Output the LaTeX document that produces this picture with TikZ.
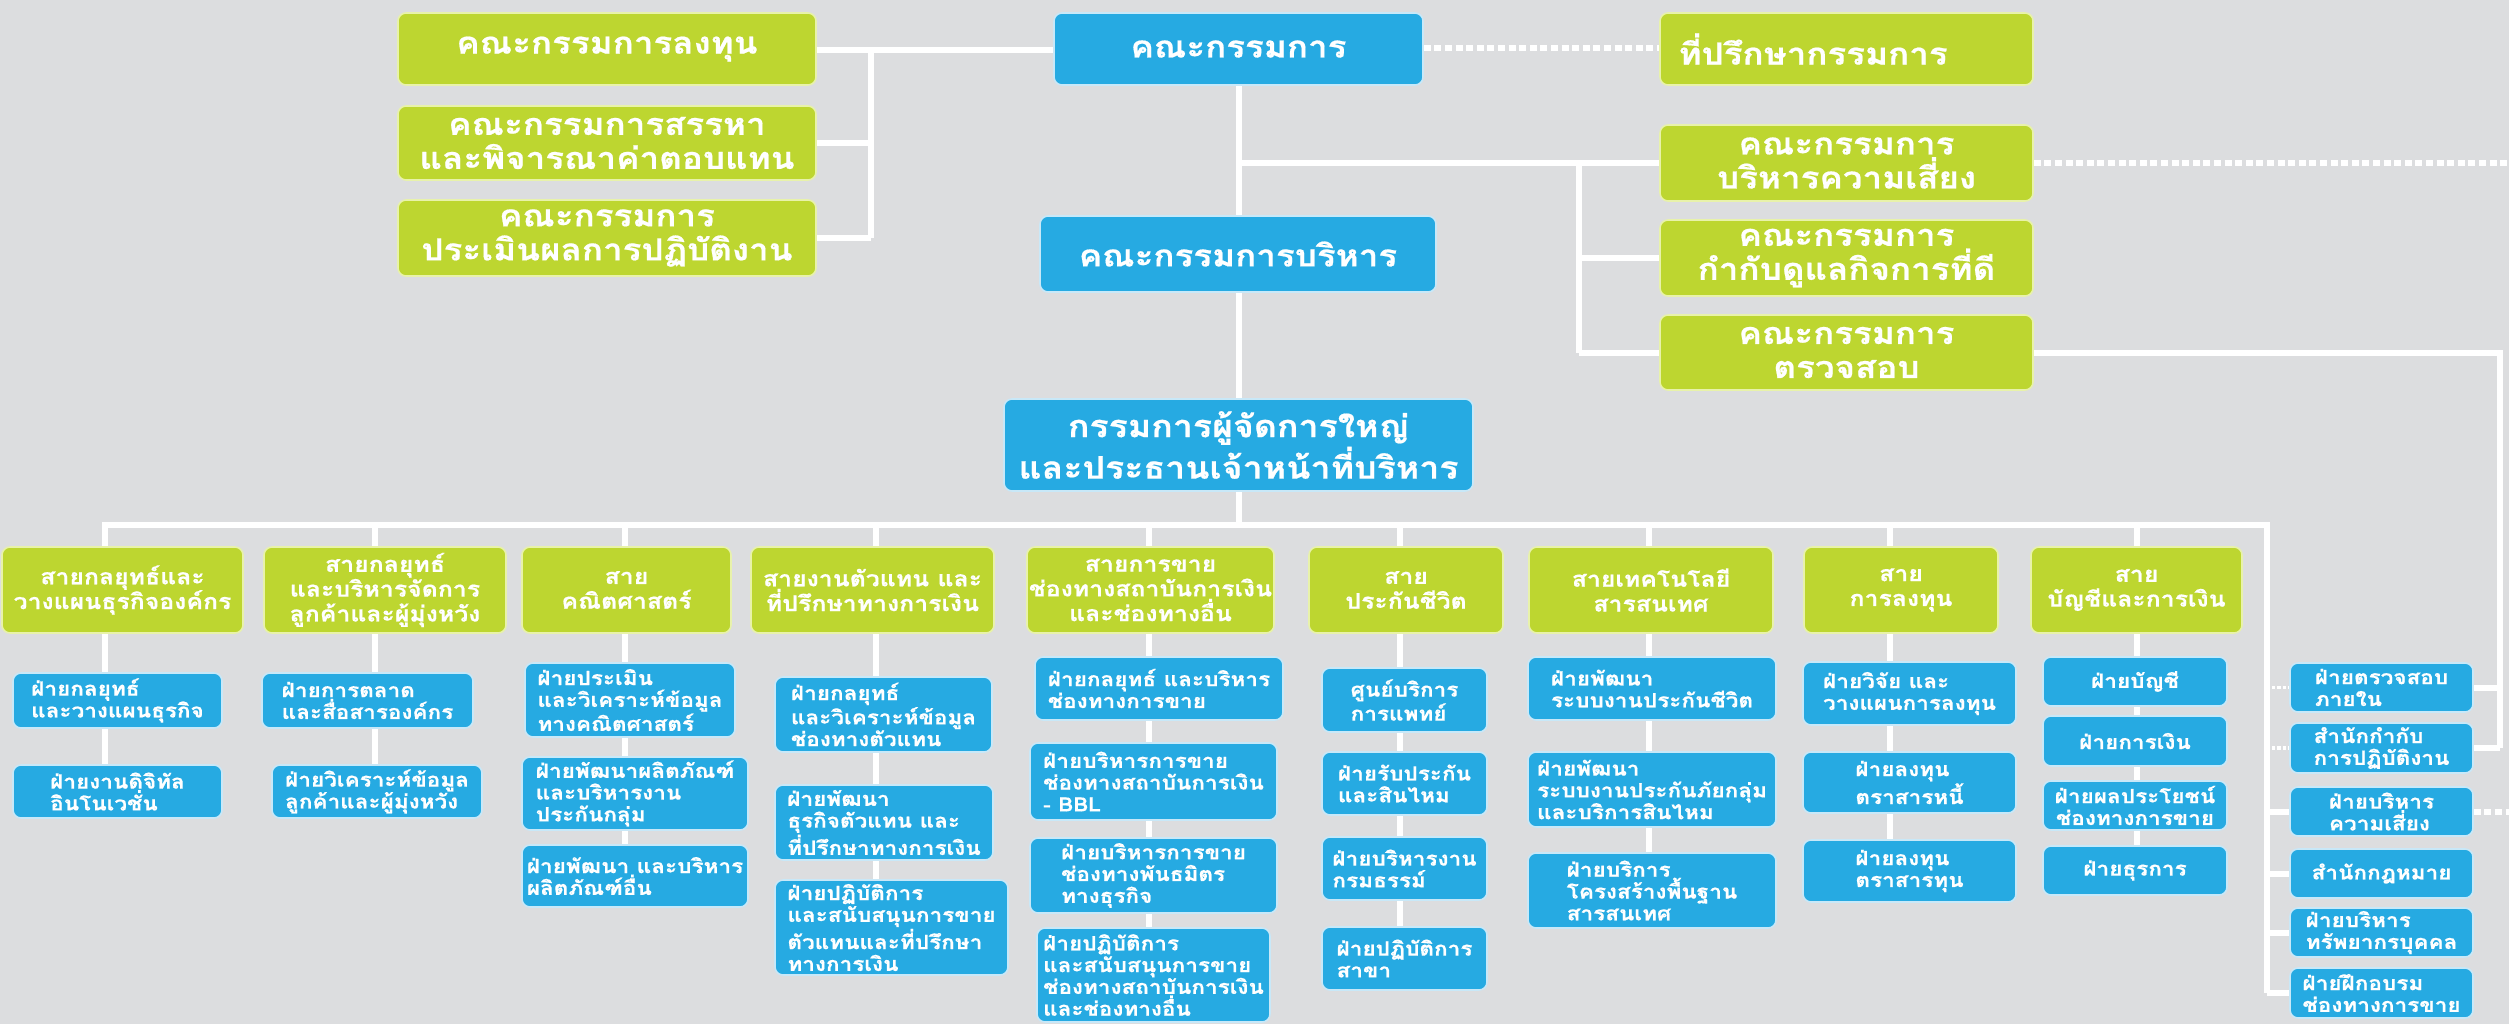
\documentclass[tikz,border=0pt]{standalone}
\usepackage{fontspec}
\newfontfamily\thai[Script=Thai,FakeStretch=1.15,BoldFeatures={FakeBold=0.6}]{Loma}
\usetikzlibrary{calc}
\pgfdeclarelayer{back}
\pgfsetlayers{back,main}
\definecolor{bgc}{RGB}{220,221,223}
\definecolor{bluec}{RGB}{38,170,226}
\definecolor{greenc}{RGB}{189,214,48}
\definecolor{rimg}{RGB}{232,242,170}
\definecolor{rimb}{RGB}{200,232,248}
\tikzset{
  base/.style={rounded corners=4pt, inner sep=0pt, text=white, line width=0.8pt},
  gbox/.style={base, fill=greenc, draw=rimg},
  bbox/.style={base, fill=bluec, draw=rimb},
  topf/.style={font=\thai\bfseries\fontsize{15.2}{17}\selectfont, align=center},
  ceof/.style={font=\thai\bfseries\fontsize{15.5}{17.5}\selectfont, align=center},
  headf/.style={font=\thai\bfseries\fontsize{10.8}{12.4}\selectfont, align=center},
  subf/.style={font=\thai\bfseries\fontsize{9.8}{10.9}\selectfont, align=left},
  subc/.style={font=\thai\bfseries\fontsize{9.8}{10.9}\selectfont, align=center},
  conn/.style={draw=white, line width=3pt},
  dots/.style={draw=white, line width=3pt, dash pattern=on 3.5pt off 1.8pt},
  fine dots/.style={draw=white, line width=1.6pt, dash pattern=on 1.6pt off 1pt},
}
% box from its corners (x1,y1)-(x2,y2), in pixel units
\newcommand\bnode[7]{\node[#2, minimum width={(#5-#3)*0.5pt}, minimum height={(#6-#4)*0.5pt}] (#1) at ({(#3+#5)/2},{(#4+#6)/2}) {#7};}
\begin{document}
\begin{tikzpicture}[x=0.5pt,y=-0.5pt]
\useasboundingbox (0,0) rectangle (2509,1024);

% --- board level ---
\bnode{inv}{gbox,topf}{398}{13}{816}{85}{คณะกรรมการลงทุน}
\bnode{nom}{gbox,topf}{398}{106}{816}{180}{คณะกรรมการสรรหา\\และพิจารณาค่าตอบแทน}
\bnode{evl}{gbox,topf}{398}{200}{816}{276}{คณะกรรมการ\\ประเมินผลการปฏิบัติงาน}
\bnode{board}{bbox,topf}{1054}{13}{1423}{85}{คณะกรรมการ}
\bnode{adv}{gbox,topf,text width=168pt,align=left}{1660}{13}{2033}{85}{ที่ปรึกษากรรมการ}
\bnode{exec}{bbox,topf}{1040}{216}{1436}{292}{คณะกรรมการบริหาร}
\bnode{risk}{gbox,topf}{1660}{125}{2033}{201}{คณะกรรมการ\\บริหารความเสี่ยง}
\bnode{gov}{gbox,topf}{1660}{220}{2033}{296}{คณะกรรมการ\\กำกับดูแลกิจการที่ดี}
\bnode{aud}{gbox,topf}{1660}{315}{2033}{390}{คณะกรรมการ\\ตรวจสอบ}
\bnode{ceo}{bbox,ceof}{1004}{399}{1473}{491}{กรรมการผู้จัดการใหญ่\\และประธานเจ้าหน้าที่บริหาร}

% --- divisions ---
\bnode{h1}{gbox,headf}{2}{547}{243}{633}{สายกลยุทธ์และ\\วางแผนธุรกิจองค์กร}
\bnode{h2}{gbox,headf}{264}{547}{506}{633}{สายกลยุทธ์\\และบริหารจัดการ\\ลูกค้าและผู้มุ่งหวัง}
\bnode{h3}{gbox,headf}{522}{547}{731}{633}{สาย\\คณิตศาสตร์}
\bnode{h4}{gbox,headf}{751}{547}{994}{633}{สายงานตัวแทน และ\\ที่ปรึกษาทางการเงิน}
\bnode{h5}{gbox,headf}{1027}{547}{1274}{633}{สายการขาย\\ช่องทางสถาบันการเงิน\\และช่องทางอื่น}
\bnode{h6}{gbox,headf}{1309}{547}{1503}{633}{สาย\\ประกันชีวิต}
\bnode{h7}{gbox,headf}{1529}{547}{1773}{633}{สายเทคโนโลยี\\สารสนเทศ}
\bnode{h8}{gbox,headf}{1804}{547}{1998}{633}{สาย\\การลงทุน}
\bnode{h9}{gbox,headf}{2031}{547}{2242}{633}{สาย\\บัญชีและการเงิน}

% --- departments ---
\bnode{b11}{bbox,subf}{13}{673}{222}{728}{ฝ่ายกลยุทธ์\\และวางแผนธุรกิจ}
\bnode{b12}{bbox,subf}{13}{765}{222}{818}{ฝ่ายงานดิจิทัล\\อินโนเวชั่น}
\bnode{b21}{bbox,subf}{262}{673}{473}{728}{ฝ่ายการตลาด\\และสื่อสารองค์กร}
\bnode{b22}{bbox,subf}{272}{765}{482}{818}{ฝ่ายวิเคราะห์ข้อมูล\\ลูกค้าและผู้มุ่งหวัง}
\bnode{b31}{bbox,subf}{525}{663}{735}{737}{ฝ่ายประเมิน\\และวิเคราะห์ข้อมูล\\ทางคณิตศาสตร์}
\bnode{b32}{bbox,subf}{522}{757}{748}{830}{ฝ่ายพัฒนาผลิตภัณฑ์\\และบริหารงาน\\ประกันกลุ่ม}
\bnode{b33}{bbox,subf}{522}{845}{748}{907}{ฝ่ายพัฒนา และบริหาร\\ผลิตภัณฑ์อื่น}
\bnode{b41}{bbox,subf}{775}{677}{992}{752}{ฝ่ายกลยุทธ์\\และวิเคราะห์ข้อมูล\\ช่องทางตัวแทน}
\bnode{b42}{bbox,subf}{775}{785}{993}{860}{ฝ่ายพัฒนา\\ธุรกิจตัวแทน และ\\ที่ปรึกษาทางการเงิน}
\bnode{b43}{bbox,subf}{775}{880}{1008}{975}{ฝ่ายปฏิบัติการ\\และสนับสนุนการขาย\\ตัวแทนและที่ปรึกษา\\ทางการเงิน}
\bnode{b51}{bbox,subf}{1035}{657}{1283}{720}{ฝ่ายกลยุทธ์ และบริหาร\\ช่องทางการขาย}
\bnode{b52}{bbox,subf}{1030}{743}{1277}{820}{ฝ่ายบริหารการขาย\\ช่องทางสถาบันการเงิน\\- BBL}
\bnode{b53}{bbox,subf}{1030}{838}{1277}{913}{ฝ่ายบริหารการขาย\\ช่องทางพันธมิตร\\ทางธุรกิจ}
\bnode{b54}{bbox,subf}{1037}{928}{1270}{1022}{ฝ่ายปฏิบัติการ\\และสนับสนุนการขาย\\ช่องทางสถาบันการเงิน\\และช่องทางอื่น}
\bnode{b61}{bbox,subf}{1322}{668}{1487}{732}{ศูนย์บริการ\\การแพทย์}
\bnode{b62}{bbox,subf}{1322}{752}{1487}{815}{ฝ่ายรับประกัน\\และสินไหม}
\bnode{b63}{bbox,subf}{1322}{837}{1487}{900}{ฝ่ายบริหารงาน\\กรมธรรม์}
\bnode{b64}{bbox,subf}{1322}{927}{1487}{990}{ฝ่ายปฏิบัติการ\\สาขา}
\bnode{b71}{bbox,subf}{1528}{657}{1776}{720}{ฝ่ายพัฒนา\\ระบบงานประกันชีวิต}
\bnode{b72}{bbox,subf}{1528}{752}{1776}{827}{ฝ่ายพัฒนา\\ระบบงานประกันภัยกลุ่ม\\และบริการสินไหม}
\bnode{b73}{bbox,subf}{1528}{853}{1776}{928}{ฝ่ายบริการ\\โครงสร้างพื้นฐาน\\สารสนเทศ}
\bnode{b81}{bbox,subf}{1803}{662}{2016}{725}{ฝ่ายวิจัย และ\\วางแผนการลงทุน}
\bnode{b82}{bbox,subf}{1803}{752}{2016}{813}{ฝ่ายลงทุน\\ตราสารหนี้}
\bnode{b83}{bbox,subf}{1803}{840}{2016}{902}{ฝ่ายลงทุน\\ตราสารทุน}
\bnode{b91}{bbox,subc}{2043}{657}{2227}{706}{ฝ่ายบัญชี}
\bnode{b92}{bbox,subc}{2043}{716}{2227}{766}{ฝ่ายการเงิน}
\bnode{b93}{bbox,subc}{2043}{781}{2227}{830}{ฝ่ายผลประโยชน์\\ช่องทางการขาย}
\bnode{b94}{bbox,subc}{2043}{846}{2227}{895}{ฝ่ายธุรการ}
\bnode{r1}{bbox,subf}{2290}{663}{2473}{712}{ฝ่ายตรวจสอบ\\ภายใน}
\bnode{r2}{bbox,subf}{2290}{723}{2473}{773}{สำนักกำกับ\\การปฏิบัติงาน}
\bnode{r3}{bbox,subf}{2290}{787}{2473}{836}{ฝ่ายบริหาร\\ความเสี่ยง}
\bnode{r4}{bbox,subf}{2290}{849}{2473}{898}{สำนักกฎหมาย}
\bnode{r5}{bbox,subf}{2290}{908}{2473}{957}{ฝ่ายบริหาร\\ทรัพยากรบุคคล}
\bnode{r6}{bbox,subf}{2290}{968}{2473}{1018}{ฝ่ายฝึกอบรม\\ช่องทางการขาย}

% --- junction points of the connector lines ---
\coordinate (lj) at (871,50);
\coordinate (rj) at (1579,163);
\coordinate (ae) at (2500,353);
\coordinate (busL) at (105,525);
\coordinate (busR) at (2267,525);
\coordinate (edgeR) at (2509,0);
\foreach \n/\x in {1/105,2/375,3/625,4/876,5/1149,6/1400,7/1649,8/1890,9/2137}
  \coordinate (c\n) at (\x,600);

\begin{pgfonlayer}{back}
  \fill[bgc] (0,0) rectangle (2509,1024);
  % board committees on the left
  \draw[conn] (inv.east |- lj) -- (board.west |- lj);
  \draw[conn] (lj) -- (lj |- evl.east);
  \draw[conn] (nom.east) -- (lj |- nom.east);
  \draw[conn] (evl.east) -- (lj |- evl.east);
  % main chain, running behind the executive committee
  \draw[conn] (board.south) -- (board.south |- ceo.north);
  \draw[conn] (board.center |- rj) -- (rj) -- (risk.west |- rj);
  \draw[conn] (rj) -- (rj |- aud.west);
  \draw[conn] (rj |- gov.west) -- (gov.west);
  \draw[conn] (rj |- aud.west) -- (aud.west);
  \draw[conn] (aud.east |- ae) -- (ae) -- (ae |- r2.east);
  \draw[conn] (r1.east) -- (ae |- r1.east);
  \draw[conn] (r2.east) -- (ae |- r2.east);
  \draw[dots] (board.east |- 0,48) -- (adv.west |- 0,48);
  \draw[dots] (risk.east |- rj) -- (edgeR |- rj);
  % divisions bus
  \draw[conn] (ceo.south) -- (ceo.south |- busL);
  \draw[conn] (busL |- h1.north) -- (busL) -- (busR) -- (busR |- r6.west);
  \foreach \n in {2,...,9} \draw[conn] (c\n |- busL) -- (c\n |- h\n.north);
  % department columns
  \draw[conn] (c1 |- h1.south) -- (c1 |- b12.center);
  \draw[conn] (c2 |- h2.south) -- (c2 |- b22.center);
  \draw[conn] (c3 |- h3.south) -- (c3 |- b33.center);
  \draw[conn] (c4 |- h4.south) -- (c4 |- b43.center);
  \draw[conn] (c5 |- h5.south) -- (c5 |- b54.center);
  \draw[conn] (c6 |- h6.south) -- (c6 |- b64.center);
  \draw[conn] (c7 |- h7.south) -- (c7 |- b73.center);
  \draw[conn] (c8 |- h8.south) -- (c8 |- b83.center);
  \draw[conn] (c9 |- h9.south) -- (c9 |- b94.center);
  % offices reporting to the CEO
  \foreach \n in {3,4,5,6} \draw[conn] (busR |- r\n.west) -- (r\n.west);
  \draw[fine dots] (busR |- r1.west) -- (r1.west);
  \draw[fine dots] (busR |- r2.west) -- (r2.west);
  \draw[dots] (r3.east) -- (edgeR |- r3.east);
\end{pgfonlayer}
\end{tikzpicture}
\end{document}
